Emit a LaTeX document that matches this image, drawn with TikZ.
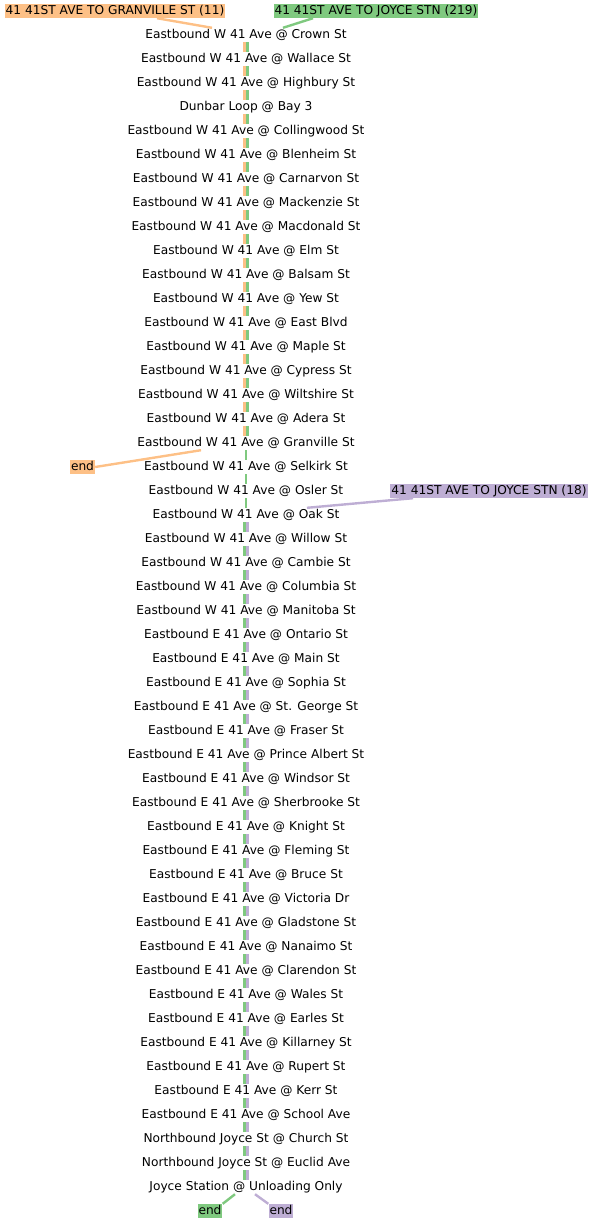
\documentclass[tikz,border=0pt]{standalone}
\usepackage{fontspec}
\setmainfont{DejaVu Sans}
\usepackage{xcolor}
\usepackage{tikz}
\usetikzlibrary{positioning}

\definecolor{routeorange}{HTML}{FDC086}
\definecolor{routegreen}{HTML}{7FC97F}
\definecolor{routepurple}{HTML}{BEAED4}

\begin{document}
\begin{tikzpicture}[x=1pt,y=-1pt,font=\fontsize{12.2}{14}\selectfont,
  stop/.style={inner sep=1pt,text height=9.5pt,text depth=2.5pt},
  route/.style={stop,fill=#1},
  leg/.style={draw=#1,line width=2.8pt},
  link/.style={draw=#1,line width=2.4pt}]
  \useasboundingbox (0,0) rectangle (594,1224);

  % route labels and ends
  \node[route=routeorange] (rt11)  at (115,11)  {41 41ST AVE TO GRANVILLE ST (11)};
  \node[route=routegreen]  (rt219) at (376,11)  {41 41ST AVE TO JOYCE STN (219)};
  \node[route=routepurple] (rt18)  at (489,491) {41 41ST AVE TO JOYCE STN (18)};
  \node[route=routeorange] (endor) at (82.5,467) {end};
  \node[route=routegreen]  (endgr) at (210,1211) {end};
  \node[route=routepurple] (endpu) at (281,1211) {end};

  % stops
  \node[stop] (s1)  at (246,35)   {Eastbound W 41 Ave @ Crown St};
  \node[stop] (s2)  at (246,59)   {Eastbound W 41 Ave @ Wallace St};
  \node[stop] (s3)  at (246,83)   {Eastbound W 41 Ave @ Highbury St};
  \node[stop] (s4)  at (246,107)  {Dunbar Loop @ Bay 3};
  \node[stop] (s5)  at (246,131)  {Eastbound W 41 Ave @ Collingwood St};
  \node[stop] (s6)  at (246,155)  {Eastbound W 41 Ave @ Blenheim St};
  \node[stop] (s7)  at (246,179)  {Eastbound W 41 Ave @ Carnarvon St};
  \node[stop] (s8)  at (246,203)  {Eastbound W 41 Ave @ Mackenzie St};
  \node[stop] (s9)  at (246,227)  {Eastbound W 41 Ave @ Macdonald St};
  \node[stop] (s10) at (246,251)  {Eastbound W 41 Ave @ Elm St};
  \node[stop] (s11) at (246,275)  {Eastbound W 41 Ave @ Balsam St};
  \node[stop] (s12) at (246,299)  {Eastbound W 41 Ave @ Yew St};
  \node[stop] (s13) at (246,323)  {Eastbound W 41 Ave @ East Blvd};
  \node[stop] (s14) at (246,347)  {Eastbound W 41 Ave @ Maple St};
  \node[stop] (s15) at (246,371)  {Eastbound W 41 Ave @ Cypress St};
  \node[stop] (s16) at (246,395)  {Eastbound W 41 Ave @ Wiltshire St};
  \node[stop] (s17) at (246,419)  {Eastbound W 41 Ave @ Adera St};
  \node[stop] (s18) at (246,443)  {Eastbound W 41 Ave @ Granville St};
  \node[stop] (s19) at (246,467)  {Eastbound W 41 Ave @ Selkirk St};
  \node[stop] (s20) at (246,491)  {Eastbound W 41 Ave @ Osler St};
  \node[stop] (s21) at (246,515)  {Eastbound W 41 Ave @ Oak St};
  \node[stop] (s22) at (246,539)  {Eastbound W 41 Ave @ Willow St};
  \node[stop] (s23) at (246,563)  {Eastbound W 41 Ave @ Cambie St};
  \node[stop] (s24) at (246,587)  {Eastbound W 41 Ave @ Columbia St};
  \node[stop] (s25) at (246,611)  {Eastbound W 41 Ave @ Manitoba St};
  \node[stop] (s26) at (246,635)  {Eastbound E 41 Ave @ Ontario St};
  \node[stop] (s27) at (246,659)  {Eastbound E 41 Ave @ Main St};
  \node[stop] (s28) at (246,683)  {Eastbound E 41 Ave @ Sophia St};
  \node[stop] (s29) at (246,707)  {Eastbound E 41 Ave @ St. George St};
  \node[stop] (s30) at (246,731)  {Eastbound E 41 Ave @ Fraser St};
  \node[stop] (s31) at (246,755)  {Eastbound E 41 Ave @ Prince Albert St};
  \node[stop] (s32) at (246,779)  {Eastbound E 41 Ave @ Windsor St};
  \node[stop] (s33) at (246,803)  {Eastbound E 41 Ave @ Sherbrooke St};
  \node[stop] (s34) at (246,827)  {Eastbound E 41 Ave @ Knight St};
  \node[stop] (s35) at (246,851)  {Eastbound E 41 Ave @ Fleming St};
  \node[stop] (s36) at (246,875)  {Eastbound E 41 Ave @ Bruce St};
  \node[stop] (s37) at (246,899)  {Eastbound E 41 Ave @ Victoria Dr};
  \node[stop] (s38) at (246,923)  {Eastbound E 41 Ave @ Gladstone St};
  \node[stop] (s39) at (246,947)  {Eastbound E 41 Ave @ Nanaimo St};
  \node[stop] (s40) at (246,971)  {Eastbound E 41 Ave @ Clarendon St};
  \node[stop] (s41) at (246,995)  {Eastbound E 41 Ave @ Wales St};
  \node[stop] (s42) at (246,1019) {Eastbound E 41 Ave @ Earles St};
  \node[stop] (s43) at (246,1043) {Eastbound E 41 Ave @ Killarney St};
  \node[stop] (s44) at (246,1067) {Eastbound E 41 Ave @ Rupert St};
  \node[stop] (s45) at (246,1091) {Eastbound E 41 Ave @ Kerr St};
  \node[stop] (s46) at (246,1115) {Eastbound E 41 Ave @ School Ave};
  \node[stop] (s47) at (246,1139) {Northbound Joyce St @ Church St};
  \node[stop] (s48) at (246,1163) {Northbound Joyce St @ Euclid Ave};
  \node[stop] (s49) at (246,1187) {Joyce Station @ Unloading Only};

  % where the routes come in and leave
  \draw[link=routeorange] ([xshift=42pt]rt11.south) -- ([xshift=-34pt]s1.north);
  \draw[link=routegreen] ([xshift=-63pt]rt219.south) -- ([xshift=37pt]s1.north);
  \draw[link=routeorange] ([xshift=-45pt]s18.south) -- (endor.east);
  \draw[link=routepurple] ([xshift=-76pt]rt18.south) -- ([xshift=61pt]s21.north);
  \draw[link=routegreen] ([xshift=-11pt]s49.south) -- (endgr.north east);
  \draw[link=routepurple] ([xshift=9pt]s49.south) -- (endpu.north west);

  % legs between stops
  \foreach \i [count=\j from 2] in {1,...,17} {
    \draw[leg=routeorange] ([xshift=-1.5pt]s\i.south) -- ([xshift=-1.5pt]s\j.north);
    \draw[leg=routegreen] ([xshift=1.5pt]s\i.south) -- ([xshift=1.5pt]s\j.north);
  }
  \foreach \i [count=\j from 19] in {18,...,20}
    \draw[leg=routegreen] (s\i.south) -- (s\j.north);
  \foreach \i [count=\j from 22] in {21,...,48} {
    \draw[leg=routegreen] ([xshift=-1.5pt]s\i.south) -- ([xshift=-1.5pt]s\j.north);
    \draw[leg=routepurple] ([xshift=1.5pt]s\i.south) -- ([xshift=1.5pt]s\j.north);
  }
\end{tikzpicture}
\end{document}
